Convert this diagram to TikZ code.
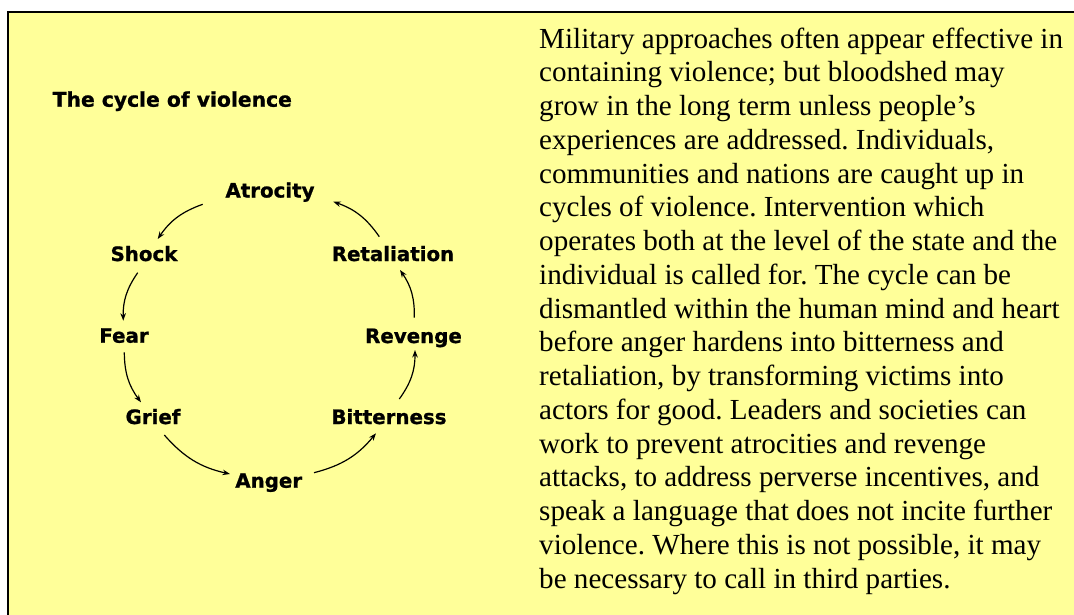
\documentclass[tikz,border=0pt]{standalone}
\usepackage{fontspec}
\setmainfont{Liberation Serif}
\newfontfamily\lblfont[BoldFeatures={FakeBold=1.0}]{DejaVu Sans}
\usetikzlibrary{arrows.meta}
\definecolor{paper}{HTML}{FFFF99}
\tikzset{
  lbl/.style={font=\lblfont\bfseries\fontsize{19.8}{22}\selectfont, inner sep=0pt, anchor=base},
  para/.style={font=\frenchspacing\fontsize{29.1}{34}\selectfont, inner sep=0pt, anchor=base west},
  cyc/.style={-{Stealth[length=7.5pt,width=5.5pt]}, line width=1.2pt, bend right=18}
}
\begin{document}
\begin{tikzpicture}[x=1pt,y=-1pt]
\useasboundingbox (0,0) rectangle (1074,614);
\fill[white] (0,0) rectangle (1074,614);
\draw[fill=paper, line width=2pt] (8.3,12) rectangle (1090,630);
\node[lbl, anchor=base west, font=\lblfont\bfseries\fontsize{20.3}{22}\selectfont] (title) at (52.5,106.7) {The cycle of violence};
\node[lbl] (atro) at (270,197.5) {Atrocity};
\node[lbl] (shock) at (144,261) {Shock};
\node[lbl] (retal) at (393,261) {Retaliation};
\node[lbl] (fear) at (124,342.7) {Fear};
\node[lbl] (reven) at (413.5,343) {Revenge};
\node[lbl] (grief) at (153,424) {Grief};
\node[lbl] (bitter) at (389,424) {Bitterness};
\node[lbl] (anger) at (268.7,487.7) {Anger};
\draw[cyc] ([shift={(-67.3,6.8)}]atro.base) to ([shift={(13.7,-22)}]shock.base);
\draw[cyc] ([shift={(-6.3,11.7)}]shock.base) to ([shift={(-0.7,-22)}]fear.base);
\draw[cyc] ([shift={(0.3,9.6)}]fear.base) to ([shift={(-12,-21.7)}]grief.base);
\draw[cyc] ([shift={(11.3,11)}]grief.base) to ([shift={(-38.7,-13.7)}]anger.base);
\draw[cyc] ([shift={(45.3,-15)}]anger.base) to ([shift={(-13,9.3)}]bitter.base);
\draw[cyc] ([shift={(10.3,-25)}]bitter.base) to ([shift={(1.5,7)}]reven.base);
\draw[cyc] ([shift={(0.8,-25.3)}]reven.base) to ([shift={(7,9)}]retal.base);
\draw[cyc] ([shift={(-13.7,-24.3)}]retal.base) to ([shift={(63.3,4.2)}]atro.base);
\foreach \t [count=\i from 0] in {
Military approaches often appear effective in,
containing violence; but bloodshed may,
grow in the long term unless people’s,
experiences are addressed. Individuals{,},
communities and nations are caught up in,
cycles of violence. Intervention which,
operates both at the level of the state and the,
individual is called for. The cycle can be,
dismantled within the human mind and heart,
before anger hardens into bitterness and,
{retaliation, by transforming victims into},
actors for good. Leaders and societies can,
work to prevent atrocities and revenge,
{attacks, to address perverse incentives, and},
speak a language that does not incite further,
{violence. Where this is not possible, it may},
be necessary to call in third parties.}
  \node[para] (line\i) at (539,48+33.75*\i) {\t};
\end{tikzpicture}
\end{document}
